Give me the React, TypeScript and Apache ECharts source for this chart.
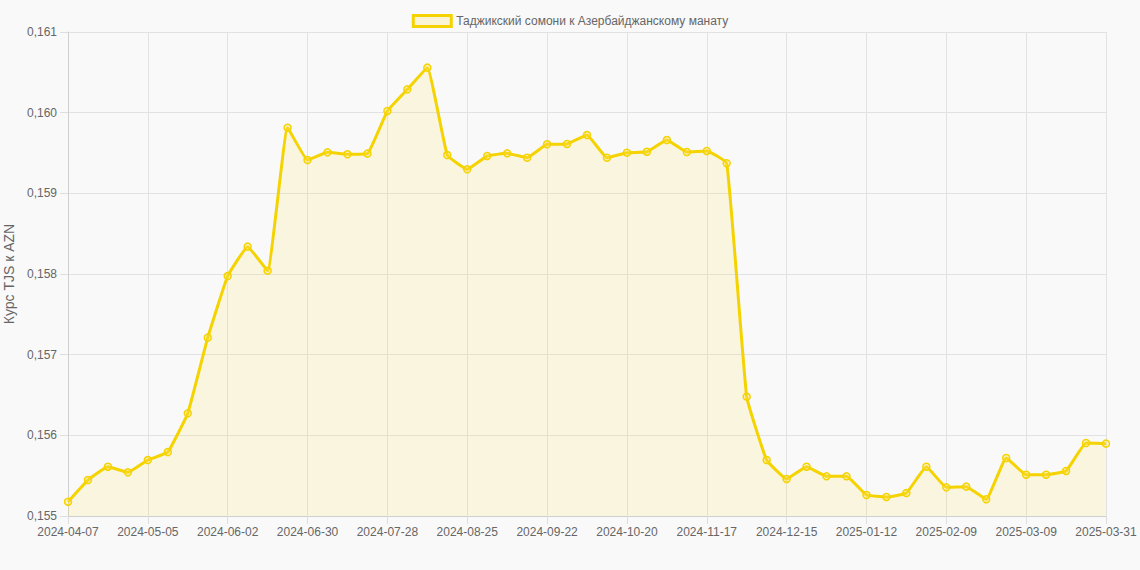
import React, { useEffect, useRef } from "react";
import * as echarts from "echarts";

const categories: string[] = [
  "2024-04-07", "2024-04-14", "2024-04-21", "2024-04-28", "2024-05-05", "2024-05-12", "2024-05-19", "2024-05-26",
  "2024-06-02", "2024-06-09", "2024-06-16", "2024-06-23", "2024-06-30", "2024-07-07", "2024-07-14", "2024-07-21",
  "2024-07-28", "2024-08-04", "2024-08-11", "2024-08-18", "2024-08-25", "2024-09-01", "2024-09-08", "2024-09-15",
  "2024-09-22", "2024-09-29", "2024-10-06", "2024-10-13", "2024-10-20", "2024-10-27", "2024-11-03", "2024-11-10",
  "2024-11-17", "2024-11-24", "2024-12-01", "2024-12-08", "2024-12-15", "2024-12-22", "2024-12-29", "2025-01-05",
  "2025-01-12", "2025-01-19", "2025-01-26", "2025-02-02", "2025-02-09", "2025-02-16", "2025-02-23", "2025-03-02",
  "2025-03-09", "2025-03-16", "2025-03-23", "2025-03-30", "2025-03-31",
];

const rates: number[] = [
  0.155177, 0.155446, 0.155611, 0.155541, 0.155694, 0.155793, 0.156273, 0.157211,
  0.157975, 0.158339, 0.158041, 0.159814, 0.159413, 0.159508, 0.159484, 0.159492,
  0.160021, 0.160289, 0.160558, 0.159475, 0.159298, 0.159463, 0.159496, 0.159442,
  0.159608, 0.159612, 0.159723, 0.159442, 0.159504, 0.159516, 0.159661, 0.159512,
  0.159525, 0.159372, 0.156479, 0.155694, 0.155459, 0.155611, 0.155492, 0.155492,
  0.155260, 0.155236, 0.155285, 0.155611, 0.155355, 0.155364, 0.155207, 0.155719,
  0.155512, 0.155512, 0.155558, 0.155905, 0.155897,
];

const seriesName = "Таджикский сомони к Азербайджанскому манату";
const yAxisTitle = "Курс TJS к AZN";
const yMin = 0.155;
const yMax = 0.161;
const yStep = 0.001;

const LINE = "#f5d300";
const FILL = "rgba(255, 215, 0, 0.15)";
const FONT = "'Liberation Sans', Arial, sans-serif";

export default function App() {
  const ref = useRef<HTMLDivElement>(null);
  useEffect(() => {
    document.body.style.margin = "0";
    document.body.style.background = "#f9f9f9";
    if (!ref.current) return;
    const chart = echarts.init(ref.current, undefined, { renderer: "svg" });
    const last = categories.length - 1;
    const showIdx = (i: number) => i % 4 === 0 || i === last;
    chart.setOption({
      animation: false,
      backgroundColor: "#f9f9f9",
      textStyle: { fontFamily: FONT },
      legend: {
        top: 9,
        left: "center",
        icon: "rect",
        itemWidth: 38,
        itemHeight: 11,
        itemGap: 10,
        textStyle: { color: "#666", fontSize: 12, fontFamily: FONT },
        itemStyle: { color: FILL, borderColor: LINE, borderWidth: 3 },
        data: [{ name: seriesName }],
      },
      grid: { left: 68, right: 34, top: 32, bottom: 54, containLabel: false, outerBoundsMode: "none" },
      xAxis: {
        type: "category",
        data: categories,
        boundaryGap: false,
        axisLine: { show: true, lineStyle: { color: "#cfcfcf", width: 1 } },
        axisTick: { show: true, length: 8, interval: (i: number) => showIdx(i), lineStyle: { color: "#dedede" } },
        axisLabel: {
          interval: (i: number) => showIdx(i),
          color: "#666",
          fontSize: 12,
          margin: 10,
          fontFamily: FONT,
          hideOverlap: false,
        },
        splitLine: { show: true, interval: (i: number) => showIdx(i), lineStyle: { color: "#e2e2e2", width: 1 } },
      },
      yAxis: {
        type: "value",
        min: yMin,
        max: yMax,
        interval: yStep,
        name: yAxisTitle,
        nameLocation: "middle",
        nameGap: 47,
        nameRotate: 90,
        nameTextStyle: { color: "#666", fontSize: 14, fontFamily: FONT },
        axisLine: { show: true, lineStyle: { color: "#cfcfcf", width: 1 } },
        axisTick: { show: true, length: 8, lineStyle: { color: "#dedede" } },
        axisLabel: {
          color: "#666",
          fontSize: 12,
          margin: 11,
          fontFamily: FONT,
          formatter: (v: number) => v.toFixed(3).replace(".", ","),
        },
        splitLine: { show: true, lineStyle: { color: "#e2e2e2", width: 1 } },
      },
      series: [
        {
          name: seriesName,
          type: "line",
          data: rates,
          smooth: 0.1,
          symbol: "circle",
          symbolSize: 7,
          showSymbol: true,
          lineStyle: { color: LINE, width: 3 },
          itemStyle: { color: "rgba(255, 225, 90, 0.3)", borderColor: LINE, borderWidth: 1.5 },
          areaStyle: { color: FILL, origin: "start" },
        },
      ],
    });
    return () => chart.dispose();
  }, []);
  return <div ref={ref} style={{ width: 1140, height: 570 }} />;
}
